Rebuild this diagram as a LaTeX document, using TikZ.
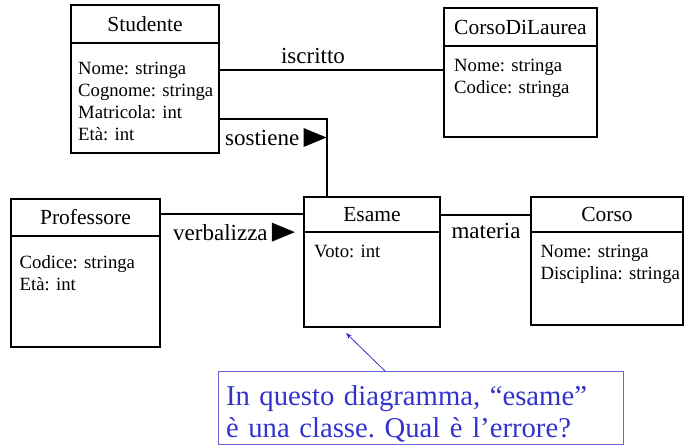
\documentclass[tikz,border=0pt]{standalone}
\usepackage{fontspec}
\setmainfont{Liberation Serif}
\usetikzlibrary{arrows.meta,positioning,calc}

\definecolor{noteblue}{RGB}{51,51,204}
\newcommand{\classfont}{\fontsize{21.5}{24}\selectfont}
\newcommand{\attrfont}{\fontsize{18.7}{22}\selectfont}
\newcommand{\linkfont}{\fontsize{23}{26}\selectfont}
\newcommand{\notefont}{\fontsize{28.7}{32.5}\selectfont\frenchspacing}

\tikzset{
    classhead/.style={draw, line width=1.6pt, outer sep=0pt, inner sep=0pt, anchor=north west, font=\classfont},
    classbody/.style={draw, line width=1.6pt, outer sep=0pt, inner sep=0pt},
    attrs/.style={anchor=north west, align=left, inner sep=0pt, font=\attrfont},
    assoc/.style={line width=1.6pt},
    assoclabel/.style={inner sep=0pt, font=\linkfont},
    notebox/.style={draw=noteblue!75, line width=1pt, text=noteblue, anchor=north west, align=left,
        font=\notefont, text width=389pt, minimum height=73pt, inner xsep=8pt, inner ysep=0pt, outer sep=0pt},
}

\begin{document}
\begin{tikzpicture}[x=1pt, y=-1pt]
    \useasboundingbox (0,0) rectangle (684,445);

    % classes
    \node[classhead, minimum width=148pt, minimum height=38pt] (stud) at (71,5) {Studente};
    \node[classbody, minimum width=148pt, minimum height=110pt, below=0pt of stud] (studbody) {};
    \node[attrs] (studattr) at ([xshift=7pt,yshift=-19pt]studbody.north west)
        {Nome: stringa\\Cognome: stringa\\Matricola: int\\Età: int};

    \node[classhead, minimum width=153pt, minimum height=38pt] (cdl) at (444,8) {CorsoDiLaurea};
    \node[classbody, minimum width=153pt, minimum height=91pt, below=0pt of cdl] (cdlbody) {};
    \node[attrs] (cdlattr) at ([xshift=10pt,yshift=-13pt]cdlbody.north west)
        {Nome: stringa\\Codice: stringa};

    \node[classhead, minimum width=149pt, minimum height=37pt] (prof) at (11,199) {Professore};
    \node[classbody, minimum width=149pt, minimum height=111pt, below=0pt of prof] (profbody) {};
    \node[attrs] (profattr) at ([xshift=8.5pt,yshift=-19pt]profbody.north west)
        {Codice: stringa\\Età: int};

    \node[classhead, minimum width=136pt, minimum height=35pt] (esame) at (304,197) {Esame};
    \node[classbody, minimum width=136pt, minimum height=95pt, below=0pt of esame] (esamebody) {};
    \node[attrs] (esameattr) at ([xshift=10pt,yshift=-12.5pt]esamebody.north west) {Voto: int};

    \node[classhead, minimum width=152pt, minimum height=35pt] (corso) at (531,197) {Corso};
    \node[classbody, minimum width=152pt, minimum height=93pt, below=0pt of corso] (corsobody) {};
    \node[attrs] (corsoattr) at ([xshift=9.5pt,yshift=-12.5pt]corsobody.north west)
        {Nome: stringa\\Disciplina: stringa};

    % associations
    \draw[assoc] ([yshift=-27pt]studbody.north east) -- ([yshift=-27pt]studbody.north east -| cdlbody.west);
    \draw[assoc] ([yshift=-76pt]studbody.north east) -| ([xshift=23pt]esame.north west);
    \draw[assoc] ([yshift=-15pt]prof.north east) -- ([yshift=-15pt]prof.north east -| esame.west);
    \draw[assoc] ([yshift=-18pt]esame.north east) -- ([yshift=-18pt]esame.north east -| corso.west);

    \node[assoclabel, anchor=base] (iscr) at (313,63) {iscritto};
    \node[assoclabel, anchor=base west] (sost) at (225,145) {sostiene};
    \node[assoclabel, anchor=base west] (verb) at (173,240) {verbalizza};
    \node[assoclabel, anchor=base] (mat) at (486,238) {materia};

    \foreach \lab in {sost,verb} {
        \fill ([xshift=4pt]\lab.east) -- ++(0,9.5pt) -- ++(23pt,-9.5pt) -- ++(-23pt,-9.5pt) -- cycle;
    }

    % note
    \node[notebox] (note) at (218,371)
        {\rule{0pt}{33pt}In questo diagramma, ``esame''\\è una classe. Qual è l'errore?};
    \coordinate (notetip) at (346,333);
    \draw[noteblue, line width=0.8pt, -{Stealth[length=6pt,width=4.5pt]}] ([xshift=167pt]note.north west) -- (notetip);
\end{tikzpicture}
\end{document}
